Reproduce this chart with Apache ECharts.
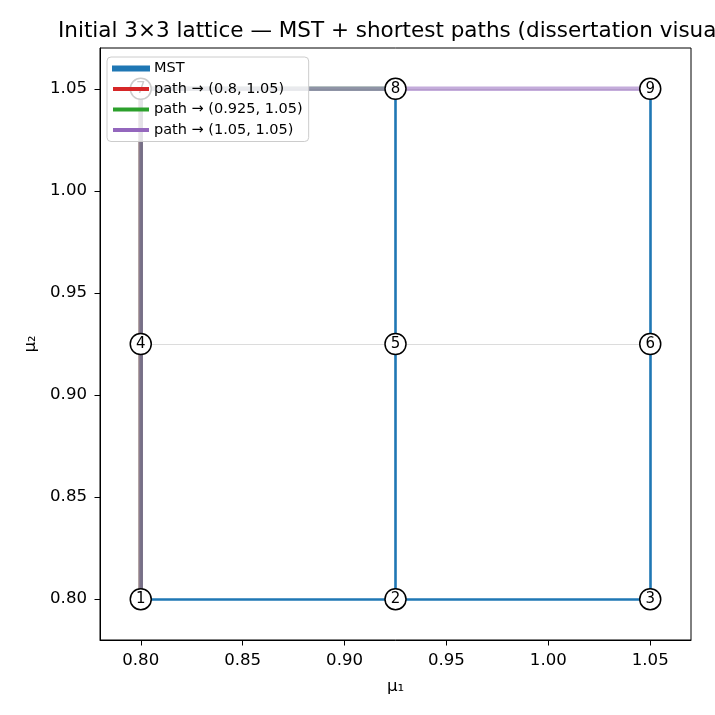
<!DOCTYPE html>
<html>
<head>
<meta charset="utf-8">
<script src="https://cdn.jsdelivr.net/npm/echarts@6/dist/echarts.min.js"></script>
<style>html,body{margin:0;padding:0;background:#fff}#c{width:715px;height:715px}</style>
</head>
<body>
<div id="c"></div>
<script>
// Node coordinates (μ1, μ2) of the 3×3 lattice
const nodeIds = [1, 2, 3, 4, 5, 6, 7, 8, 9];
const nodeX = [0.8, 0.925, 1.05, 0.8, 0.925, 1.05, 0.8, 0.925, 1.05];
const nodeY = [0.8, 0.8, 0.8, 0.925, 0.925, 0.925, 1.05, 1.05, 1.05];
// Edges (node ids)
const latticeEdges = [[1,2],[2,3],[4,5],[5,6],[7,8],[8,9],[1,4],[4,7],[2,5],[5,8],[3,6],[6,9]];
const mstEdges = [[1,2],[2,3],[2,5],[5,8],[3,6],[6,9],[1,4],[4,7]];
// Shortest paths (node sequences)
const pathNames = ['path → (0.8, 1.05)', 'path → (0.925, 1.05)', 'path → (1.05, 1.05)'];
const pathNodes = [[1,4,7],[1,4,7,8],[1,4,7,8,9]];
const pathColors = ['#d62728', '#2ca02c', '#9467bd'];
// Tick values
const xTicks = [0.80, 0.85, 0.90, 0.95, 1.00, 1.05];
const yTicks = [0.80, 0.85, 0.90, 0.95, 1.00, 1.05];

const pt = id => [nodeX[id - 1], nodeY[id - 1]];
const edgeData = edges => edges.map(e => ({ coords: [pt(e[0]), pt(e[1])] }));
const FONT = 'DejaVu Sans';

const series = [
  {
    type: 'lines', name: 'lattice', coordinateSystem: 'cartesian2d',
    data: edgeData(latticeEdges),
    lineStyle: { color: '#dcdcdc', width: 1, opacity: 1 },
    silent: true, z: 1
  },
  {
    type: 'lines', name: 'MST', coordinateSystem: 'cartesian2d',
    data: edgeData(mstEdges),
    lineStyle: { color: '#1f77b4', width: 2.6, opacity: 1 },
    itemStyle: { color: '#1f77b4' },
    z: 2
  }
];
pathNodes.forEach((p, i) => {
  series.push({
    type: 'line', name: pathNames[i],
    data: p.map(pt),
    symbol: 'none', showSymbol: false,
    lineStyle: { color: pathColors[i], width: 4.5, opacity: 0.55, cap: 'round', join: 'round' },
    itemStyle: { color: pathColors[i] },
    z: 2
  });
});
series.push({
  type: 'scatter', name: 'nodes',
  data: nodeIds.map(id => ({ value: pt(id), name: String(id) })),
  symbol: 'circle', symbolSize: 21,
  itemStyle: { color: '#ffffff', borderColor: '#000000', borderWidth: 1.5, opacity: 1 },
  label: { show: true, position: 'inside', formatter: p => p.name, color: '#000', fontSize: 15, fontFamily: FONT },
  z: 3
});

const chart = echarts.init(document.getElementById('c'), null, { renderer: 'canvas' });
chart.setOption({
  animation: false,
  backgroundColor: '#ffffff',
  title: {
    text: 'Initial 3×3 lattice — MST + shortest paths (dissertation visualization)',
    left: 58, top: 20, padding: 0,
    textStyle: { fontFamily: FONT, fontSize: 21.5, fontWeight: 'normal', color: '#000' }
  },
  grid: { left: 100, right: 24, top: 48, bottom: 75, show: true, borderColor: '#000', borderWidth: 1, backgroundColor: 'transparent' },
  legend: {
    orient: 'vertical', left: 107, top: 57,
    padding: [4, 6, 4, 5], itemGap: 5.5, itemWidth: 36, itemHeight: 4,
    backgroundColor: 'rgba(255,255,255,0.8)', borderColor: '#cccccc', borderWidth: 1, borderRadius: 4,
    textStyle: { fontFamily: FONT, fontSize: 14.5, color: '#000' },
    data: [
      { name: 'MST', icon: 'rect', itemStyle: { color: '#1f77b4' } },
      { name: pathNames[0], icon: 'rect', itemStyle: { color: pathColors[0] } },
      { name: pathNames[1], icon: 'rect', itemStyle: { color: pathColors[1] } },
      { name: pathNames[2], icon: 'rect', itemStyle: { color: pathColors[2] } }
    ],
    selectedMode: false
  },
  xAxis: {
    type: 'value', min: 0.78, max: 1.07,
    name: 'μ₁', nameLocation: 'middle', nameGap: 38,
    nameTextStyle: { fontFamily: FONT, fontSize: 16.6, color: '#000' },
    axisLine: { show: true, onZero: false, lineStyle: { color: '#000', width: 1 } },
    axisTick: { show: true, length: 5.5, inside: false, customValues: xTicks, lineStyle: { color: '#000' } },
    axisLabel: { show: true, customValues: xTicks, formatter: v => v.toFixed(2), fontFamily: FONT, fontSize: 16.6, color: '#000', margin: 12 },
    splitLine: { show: false }
  },
  yAxis: {
    type: 'value', min: 0.78, max: 1.07,
    name: 'μ₂', nameLocation: 'middle', nameGap: 60, nameRotate: 90,
    nameTextStyle: { fontFamily: FONT, fontSize: 16.6, color: '#000' },
    axisLine: { show: true, onZero: false, lineStyle: { color: '#000', width: 1 } },
    axisTick: { show: true, length: 5.5, inside: false, customValues: yTicks, lineStyle: { color: '#000' } },
    axisLabel: { show: true, customValues: yTicks, formatter: v => v.toFixed(2), fontFamily: FONT, fontSize: 16.6, color: '#000', margin: 13 },
    splitLine: { show: false }
  },
  series: series
});
</script>
</body>
</html>
